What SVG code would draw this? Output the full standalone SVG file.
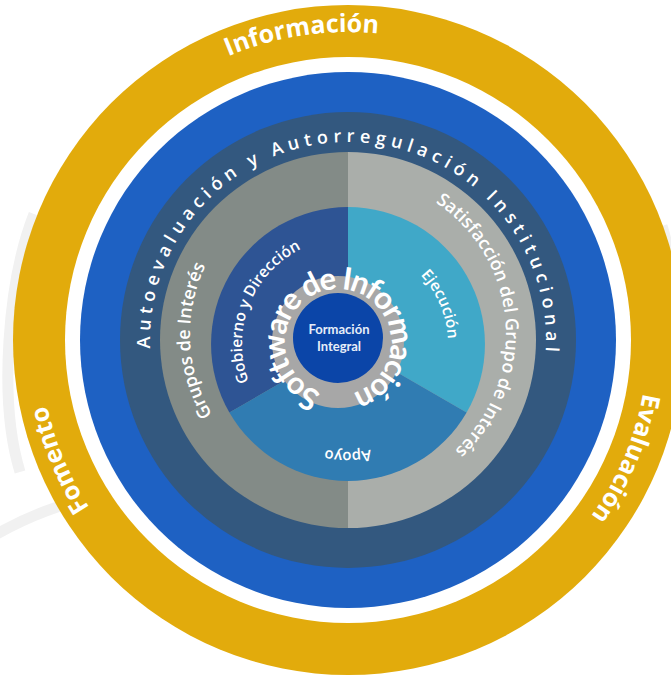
<svg xmlns="http://www.w3.org/2000/svg" width="671" height="677" viewBox="0 0 671 677">
<style>
.t{fill:#ffffff;font-family:"Open Sans","Noto Sans","DejaVu Sans",sans-serif}
.outer{font-size:25px;font-weight:700}
.ring{font-size:18px;font-weight:600;letter-spacing:5.2px}
.mid{font-size:18px;font-weight:600}
.inn{font-size:15.5px;font-weight:600}
.soft{font-family:Lato,"Open Sans",sans-serif;font-size:31px;font-weight:700;fill:#ffffff;letter-spacing:-1.8px}
.core{font-family:Lato,"Open Sans",sans-serif;font-size:13px;font-weight:700;fill:#e6edf8}
</style>
<defs>
<path id="pGold" d="M348,648 A308,308 0 1,1 348,32 A308,308 0 1,1 348,648"/>
<path id="pGoldR" d="M348,640 A300,300 0 1,1 348,40 A300,300 0 1,1 348,640"/>
<path id="pSlate" d="M348,538 A198,198 0 1,1 348,142 A198,198 0 1,1 348,538"/>
<path id="pGray" d="M348,492 A158,158 0 1,1 348,176 A158,158 0 1,1 348,492"/>
<path id="pGob" d="M348,450 A106,106 0 1,1 348,238 A106,106 0 1,1 348,450"/>
<path id="pEje" d="M348,444 A100,100 0 1,1 348,244 A100,100 0 1,1 348,444"/>
<path id="pApo" d="M348,236 A108,108 0 1,1 348,452 A108,108 0 1,1 348,236"/>
<path id="pSoft" d="M338,395 A53,53 0 1,1 338,289 A53,53 0 1,1 338,395"/>
</defs>
<rect width="671" height="677" fill="#ffffff"/>
<g id="watermark" fill="none" stroke="#f1f1f1" stroke-width="11">
<path d="M34,214 C8,280 -2,400 20,472"/>
<path d="M-5,535 C30,515 60,505 100,494"/>
<path d="M662,226 C668,245 673,270 675,298"/>
</g>
<g id="ring-gold">
<circle cx="348" cy="340" r="335" fill="#e2ab0c"/>
<circle cx="348" cy="340" r="283" fill="#ffffff"/>
<text class="t outer"><textPath href="#pGold" startOffset="921" text-anchor="middle">Información</textPath></text>
<text class="t outer"><textPath href="#pGold" startOffset="362" text-anchor="middle">Fomento</textPath></text>
<text class="t outer"><textPath href="#pGoldR" startOffset="1534" text-anchor="middle">Evaluación</textPath></text>
</g>
<g id="ring-blue">
<circle cx="348" cy="340" r="268" fill="#1e61c3"/>
</g>
<g id="ring-autoevaluacion">
<circle cx="348" cy="340" r="228" fill="#33587f"/>
<text class="t ring"><textPath href="#pSlate" startOffset="626" text-anchor="middle">Autoevaluación y Autorregulación Institucional</textPath></text>
</g>
<g id="ring-grupos">
<path d="M348,152 A188,188 0 0,0 348,528 Z" fill="#838b87"/>
<path d="M348,152 A188,188 0 0,1 348,528 Z" fill="#aaaeaa"/>
<text class="t mid"><textPath href="#pGray" startOffset="241" text-anchor="middle">Grupos de Interés</textPath></text>
<text class="t mid"><textPath href="#pGray" startOffset="732" text-anchor="middle">Satisfacción del Grupo de Interés</textPath></text>
</g>
<g id="sector-gobierno">
<path d="M348,344 L348,207 A137,137 0 0,0 229.4,412.5 Z" fill="#2e5494"/>
<text class="t inn"><textPath href="#pGob" startOffset="206" text-anchor="middle">Gobierno y Dirección</textPath></text>
</g>
<g id="sector-ejecucion">
<path d="M348,344 L348,207 A137,137 0 0,1 466.6,412.5 Z" fill="#40a8c8"/>
<text class="t inn"><textPath href="#pEje" startOffset="430" text-anchor="middle">Ejecución</textPath></text>
</g>
<g id="sector-apoyo">
<path d="M348,344 L466.6,412.5 A137,137 0 0,1 229.4,412.5 Z" fill="#307cb2"/>
<text class="t inn" style="font-size:15px"><textPath href="#pApo" startOffset="339" text-anchor="middle">Apoyo</textPath></text>
</g>
<g id="ring-software">
<circle cx="338" cy="342" r="66" fill="#a7a7a7"/>
<text class="soft"><textPath href="#pSoft" startOffset="166.5" text-anchor="middle">Software de Información</textPath></text>
</g>
<g id="core-formacion">
<circle cx="338" cy="338" r="45" fill="#0b45a8"/>
<text class="core" x="339" y="334" text-anchor="middle">Formación</text>
<text class="core" x="339" y="351" text-anchor="middle">Integral</text>
</g>
<g id="connectors"></g>
</svg>
